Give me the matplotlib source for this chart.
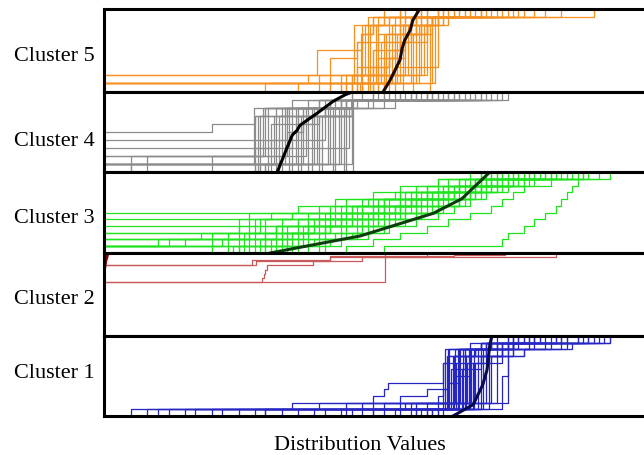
import matplotlib.pyplot as plt
import numpy as np

plt.rcParams['font.family'] = ['Liberation Serif', 'DejaVu Serif']

# each curve = sample values of one member; drawn as its empirical CDF
c5_curves = [
    [0, 47, 47, 47, 47, 47, 48, 48, 49, 56],
    [48, 48, 48, 48, 48, 48, 48, 50, 50, 62],
    [46, 46, 49, 49, 49, 49, 49, 49, 52, 52],
    [0, 0, 50, 50, 50, 51, 51, 51, 51, 66],
    [47.5, 51.5, 51.5, 51.5, 51.5, 51.5, 53, 53, 53, 70],
    [40, 52.5, 52.5, 52.5, 52.5, 52.5, 52.5, 54, 60, 74],
    [53, 53, 53, 53, 53, 53, 55, 55, 55, 55],
    [0, 44, 54, 54, 54, 54, 54, 57, 57, 64],
    [49, 55, 55, 55, 55, 55, 55, 55, 61, 80],
    [50, 50, 56, 56, 56, 56, 56, 56, 56, 59],
    [44, 57, 57, 57, 57, 57, 57, 58, 58, 68],
    [51, 58, 58, 58, 58, 58, 58, 58, 63, 63],
    [0, 38, 59, 59, 59, 59, 59, 59, 60, 72],
    [52, 52, 60, 60, 60, 60, 60, 60, 61, 76],
    [46, 61, 61, 61, 61, 61, 61, 61, 61, 65],
    [54, 54, 54, 62, 62, 62, 62, 62, 62, 69],
    [50, 51, 52, 53, 54, 55, 56, 57, 58, 59],
    [47, 49, 51, 53, 54, 55, 56, 58, 61, 91],
    [42, 46, 50, 53, 55, 56, 57, 59, 63, 67],
    [48, 49, 50, 51, 53, 55, 57, 60, 64, 85],
    [36, 47, 47, 50, 50, 55, 55, 61, 61, 71],
    [45, 45, 52, 52, 56, 56, 60, 60, 62, 78],
    [0, 0, 39.6, 39.6, 39.6, 48, 48, 50, 50, 55],
    [30, 42, 42, 42, 47, 47, 55, 55, 58, 60],
    [0] + [46.5] * 7 + [52, 60],
    [44] + [47.8] * 6 + [50, 55, 63],
    [0, 40] + [48.5] * 6 + [57, 66],
    [49.5] * 8 + [53, 58],
    [45] + [50.5] * 7 + [54, 70],
    [51] * 7 + [56, 56, 62],
    [47] + [52] * 6 + [59, 59, 73],
    [0] + [53.5] * 7 + [58, 64],
    [50] + [54.5] * 6 + [60, 61, 67],
    [55.5] * 8 + [57, 82],
    [42, 49] + [56.5] * 6 + [59, 62],
    [57.5] * 7 + [60, 60, 70],
    [52] + [58.5] * 7 + [61, 75],
    [46, 53] + [59.5] * 6 + [62, 65],
    [60.5] * 8 + [61.5, 68],
    [48] + [61.5] * 7 + [62, 77],
]
c5_med_x = [51.9, 53.2, 54.1, 55.0, 55.4, 55.9, 56.9, 57.4, 58.7]
c5_med_y = [0.0, 0.14, 0.26, 0.38, 0.52, 0.62, 0.74, 0.86, 1.0]

c4_curves = [
    [0, 28, 28, 28, 28, 28, 28, 30, 40, 55],
    [29, 29, 29, 29, 29, 29, 29, 33, 46, 46],
    [0, 0, 30, 30, 30, 30, 30, 30, 38, 62],
    [31, 31, 31, 31, 31, 31, 36, 36, 46, 70],
    [5, 32, 32, 32, 32, 32, 32, 32, 44, 50],
    [33, 33, 33, 33, 33, 33, 33, 41, 41, 58],
    [0, 20, 34, 34, 34, 34, 34, 34, 46, 74],
    [35, 35, 35, 35, 35, 35, 35, 35, 43, 52],
    [36, 36, 36, 36, 36, 36, 36, 46, 46, 65],
    [0, 37, 37, 37, 37, 37, 37, 37, 47, 60],
    [38, 38, 38, 38, 38, 38, 38, 45, 45, 68],
    [28, 39, 39, 39, 39, 39, 39, 39, 42, 48],
    [40, 40, 40, 40, 40, 40, 40, 46, 46, 72],
    [0, 0, 0, 0, 41, 41, 41, 41, 46, 56],
    [29, 42, 42, 42, 42, 42, 42, 42, 46, 63],
    [43, 43, 43, 43, 43, 43, 43, 43, 50, 66],
    [30, 44, 44, 44, 44, 44, 44, 46, 54, 60],
    [45, 45, 45, 45, 45, 45, 45, 45, 46, 58],
    [8, 46, 46, 46, 46, 46, 46, 46, 46, 52],
    [32, 33, 34, 35, 36, 37, 39, 41, 44, 46],
    [0, 0, 0, 0, 0, 20, 28, 34, 45, 64],
    [0, 5, 28, 31, 34, 37, 40, 46, 52, 70],
    [0] + [27.8] * 7 + [35, 50],
    [28.6] * 7 + [38, 46, 57],
    [0, 0] + [29.6] * 6 + [44, 66],
    [30.4] * 8 + [40, 61],
    [5] + [31.6] * 6 + [37, 46, 54],
    [32.6] * 7 + [45, 45, 71],
    [0] + [33.6] * 7 + [46, 59],
    [34.4] * 8 + [42, 64],
    [20] + [35.6] * 7 + [46, 53],
    [36.6] * 7 + [44, 46, 67],
    [0, 8] + [37.6] * 6 + [46, 62],
    [38.6] * 8 + [46, 73],
    [30] + [39.6] * 7 + [46, 57],
    [40.6] * 7 + [46, 49, 69],
    [0] + [41.6] * 7 + [46, 61],
    [42.6] * 8 + [46, 55],
    [28] + [43.6] * 7 + [46, 65],
    [44.6] * 8 + [46, 51],
    [0, 0, 0] + [45.6] * 5 + [46, 60],
    [46.2] * 9 + [75],
]
c4_med_x = [32.2, 33.1, 34.0, 35.0, 35.9, 36.4, 38.3, 39.6, 42.6, 44.8, 46.3]
c4_med_y = [0.0, 0.15, 0.3, 0.46, 0.52, 0.58, 0.67, 0.73, 0.88, 0.96, 1.0]

c3_curves = [
    [0, 0, 0, 25, 30, 35, 40, 45, 50, 55, 62, 70],
    [20, 28, 32, 36, 40, 44, 48, 52, 56, 60, 66, 75],
    [0, 15, 30, 34, 38, 42, 46, 50, 55, 60, 64, 72],
    [30, 33, 36, 39, 42, 45, 48, 51, 54, 58, 62, 68],
    [0, 0, 0, 0, 0, 35, 42, 48, 55, 62, 70, 80],
    [25, 30, 34, 38, 44, 50, 56, 60, 64, 68, 72, 78],
    [0, 10, 20, 32, 36, 40, 45, 52, 58, 63, 67, 71],
    [33, 36, 40, 44, 48, 52, 55, 58, 62, 66, 70, 74],
    [0, 0, 28, 32, 36, 45, 50, 55, 60, 65, 75, 88],
    [35, 40, 45, 48, 52, 56, 60, 64, 67, 70, 72, 76],
    [0, 22, 30, 38, 46, 52, 58, 62, 66, 70, 74, 94],
    [28, 34, 38, 42, 46, 50, 54, 58, 63, 69, 78, 85],
    [0, 0, 18, 30, 40, 48, 54, 59, 64, 68, 71, 73],
    [38, 42, 46, 50, 54, 58, 62, 66, 70, 73, 76, 82],
    [0, 30, 35, 40, 44, 48, 52, 56, 60, 65, 66, 70],
    [45, 50, 55, 60, 64, 68, 72, 74, 76, 78, 83, 89],
    [52, 74, 75, 78, 80, 82, 84, 85, 86, 87, 88, 89],
    [26, 26, 26, 33, 33, 47, 47, 57, 57, 63, 69, 79],
    [0, 0, 0, 0, 29, 31, 44, 53, 60, 68, 72, 84],
    [31, 35, 37, 41, 43, 49, 53, 57, 61, 64, 68, 73],
    [24, 27, 35, 41, 47, 51, 54, 61, 65, 69, 73, 77],
    [0, 12, 27, 29, 39, 43, 52, 57, 62, 67, 70, 81],
    [36, 39, 43, 47, 51, 54, 57, 60, 63, 66, 69, 72],
    [29, 31, 34, 37, 41, 46, 51, 57, 65, 70, 73, 86],
    [40, 44, 49, 53, 56, 59, 63, 66, 68, 71, 74, 80],
    [0, 0, 27, 27, 27, 27, 43, 43, 58, 66, 71, 77],
    [23, 23, 23, 38, 38, 38, 52, 52, 64, 64, 76, 83],
    [0, 25, 25, 25, 25, 46, 46, 56, 61, 69, 69, 74],
    [32, 32, 32, 32, 44, 44, 55, 55, 67, 67, 73, 90],
    [0, 0, 0, 28, 28, 41, 50, 58, 63, 70, 75, 79],
    [27, 34, 41, 41, 53, 53, 59, 59, 65, 71, 77, 84],
    [0, 20, 33, 42, 49, 55, 55, 62, 68, 72, 76, 78],
    [30, 37, 37, 45, 50, 56, 61, 67, 69, 74, 80, 87],
    [41, 41, 47, 52, 58, 62, 65, 68, 71, 75, 79, 83],
    [0, 0, 0, 0, 0, 0, 36, 49, 59, 66, 71, 76],
    [34, 38, 44, 49, 53, 58, 62, 66, 69, 72, 75, 82],
    [25, 29, 33, 39, 45, 50, 56, 63, 68, 73, 78, 92],
]
c3_med_x = [30.9, 38.8, 47.6, 61.2, 66.5, 71.4, 71.7]
c3_med_y = [0.0, 0.1, 0.21, 0.49, 0.67, 0.98, 1.0]

c2_curves = [
    [0] * 43 + [27.5, 27.5, 27.5, 42, 42, 65, 74.5],
    [0] * 13 + [29.4, 29.7, 30.0, 30.2, 38.8, 48, 60],
    [0] * 13 + [52.2] * 7,
    [0] * 17 + [28.3, 42, 84],
]
c2_med_x = [0, 0, 0.3, 0.75]
c2_med_y = [0.0, 0.77, 0.9, 1.0]

c1_curves = [
    [8, 63, 63, 63, 63, 63, 63, 63, 64, 64, 70, 80],
    [17, 64, 64, 64, 64, 64, 64, 64, 64, 66, 72, 88],
    [30, 64.5, 64.5, 64.5, 64.5, 64.5, 64.5, 66, 66, 68, 76, 76],
    [39, 65, 65, 65, 65, 65, 65, 65, 65, 70, 86, 94],
    [46, 65.5, 65.5, 65.5, 65.5, 65.5, 65.5, 65.5, 67, 67, 72, 72],
    [52, 66, 66, 66, 66, 66, 66, 66, 66, 74, 80, 84],
    [55, 66.5, 66.5, 66.5, 66.5, 66.5, 66.5, 68, 68, 73, 82, 90],
    [58, 67, 67, 67, 67, 67, 67, 67, 67, 71, 75, 76],
    [5, 40, 67.5, 67.5, 67.5, 67.5, 67.5, 67.5, 70, 78, 85, 89],
    [60, 68, 68, 68, 68, 68, 68, 68, 68, 68, 74, 94],
    [61, 68.5, 68.5, 68.5, 68.5, 68.5, 68.5, 68.5, 70, 71, 76, 81],
    [22, 50, 69, 69, 69, 69, 69, 69, 72, 78, 87, 92],
    [62, 70, 70, 70, 70, 70, 70, 70, 70, 74, 77, 79],
    [45, 57, 71, 71, 71, 71, 71, 71, 71, 71, 71, 73],
    [33, 55, 72, 72, 72, 72, 72, 72, 74, 76, 83, 86],
    [60, 62, 73, 73, 73, 73, 73, 73, 73, 75, 75, 78],
    [30, 45, 50, 52, 52.8, 63, 63, 63, 65, 67, 70, 75],
    [48, 58, 62, 63, 64, 66, 68, 70, 72, 74, 76, 80],
    [12, 35, 55, 60, 64, 65, 66, 67, 68, 69, 75, 85],
    [50, 74, 74, 74, 74, 74, 75, 75, 75, 76, 76, 82],
    [10] + [63.4] * 9 + [68, 77],
    [25] + [63.8] * 8 + [66, 74, 85],
    [41] + [64.2] * 9 + [70, 79],
    [50] + [64.8] * 8 + [69, 73, 91],
    [36, 56] + [65.2] * 8 + [71, 83],
    [57] + [65.8] * 9 + [72, 80],
    [15, 48] + [66.2] * 8 + [75, 88],
    [59] + [66.8] * 9 + [70, 76],
    [44] + [67.2] * 8 + [69, 74, 84],
    [62] + [67.8] * 9 + [73, 78],
    [28, 52] + [68.2] * 8 + [72, 81],
    [61] + [68.8] * 9 + [71, 75],
    [54] + [69.5] * 9 + [76, 90],
    [63] + [70.5] * 9 + [73, 77],
    [58] + [71.5] * 8 + [74, 79, 86],
    [20, 60] + [75] * 8 + [76, 93],
]
c1_med_x = [64.9, 68.6, 70.4, 71.2, 71.7, 72.1]
c1_med_y = [0.0, 0.14, 0.39, 0.58, 0.89, 1.0]

labels = ["Cluster 5", "Cluster 4", "Cluster 3", "Cluster 2", "Cluster 1"]
label_ypix = [56.5, 141.5, 218.5, 299.5, 373.5]
all_curves = [c5_curves, c4_curves, c3_curves, c2_curves, c1_curves]
all_med = [(c5_med_x, c5_med_y), (c4_med_x, c4_med_y), (c3_med_x, c3_med_y),
           (c2_med_x, c2_med_y), (c1_med_x, c1_med_y)]
colors = ["#f7901e", "#8c8c8c", "#1ee41e", "#c85a5a", "#2626c4"]
med_colors = ["#1a0a00", "black", "#0b3d0b", "#8b0000", "#0a0a50"]

fig, axes = plt.subplots(5, 1, figsize=(6.44, 4.55), dpi=100,
                         gridspec_kw={"height_ratios": [83, 80.5, 81, 83, 80]})
fig.subplots_adjust(left=0.1615, right=0.997, top=0.981, bottom=0.086, hspace=0)

for ax, curves, med, col, mcol, lab, ly in zip(axes, all_curves, all_med, colors,
                                               med_colors, labels, label_ypix):
    for vals in curves:
        x = np.sort(np.asarray(vals, float))
        y = np.arange(1, len(x) + 1) / len(x)
        ax.step(np.r_[x[0], x], np.r_[0, y], where="post", color=col, lw=0.9)
    ax.plot(med[0], med[1], color=mcol, lw=2.2, zorder=2.4)
    ax.set_xlim(0, 100)
    ax.set_ylim(0, 1)
    ax.set_xticks([])
    ax.set_yticks([])
    ax.spines["right"].set_visible(False)
    for s in ["top", "bottom", "left"]:
        ax.spines[s].set_linewidth(2.2)
        ax.spines[s].set_color("black")
    fig.text(95 / 644, 1 - ly / 455, lab, ha="right", va="center", fontsize=16)

fig.text(360 / 644, 1 - 445 / 455, "Distribution Values", ha="center", va="center", fontsize=16)

plt.savefig("out.png", dpi=100)
